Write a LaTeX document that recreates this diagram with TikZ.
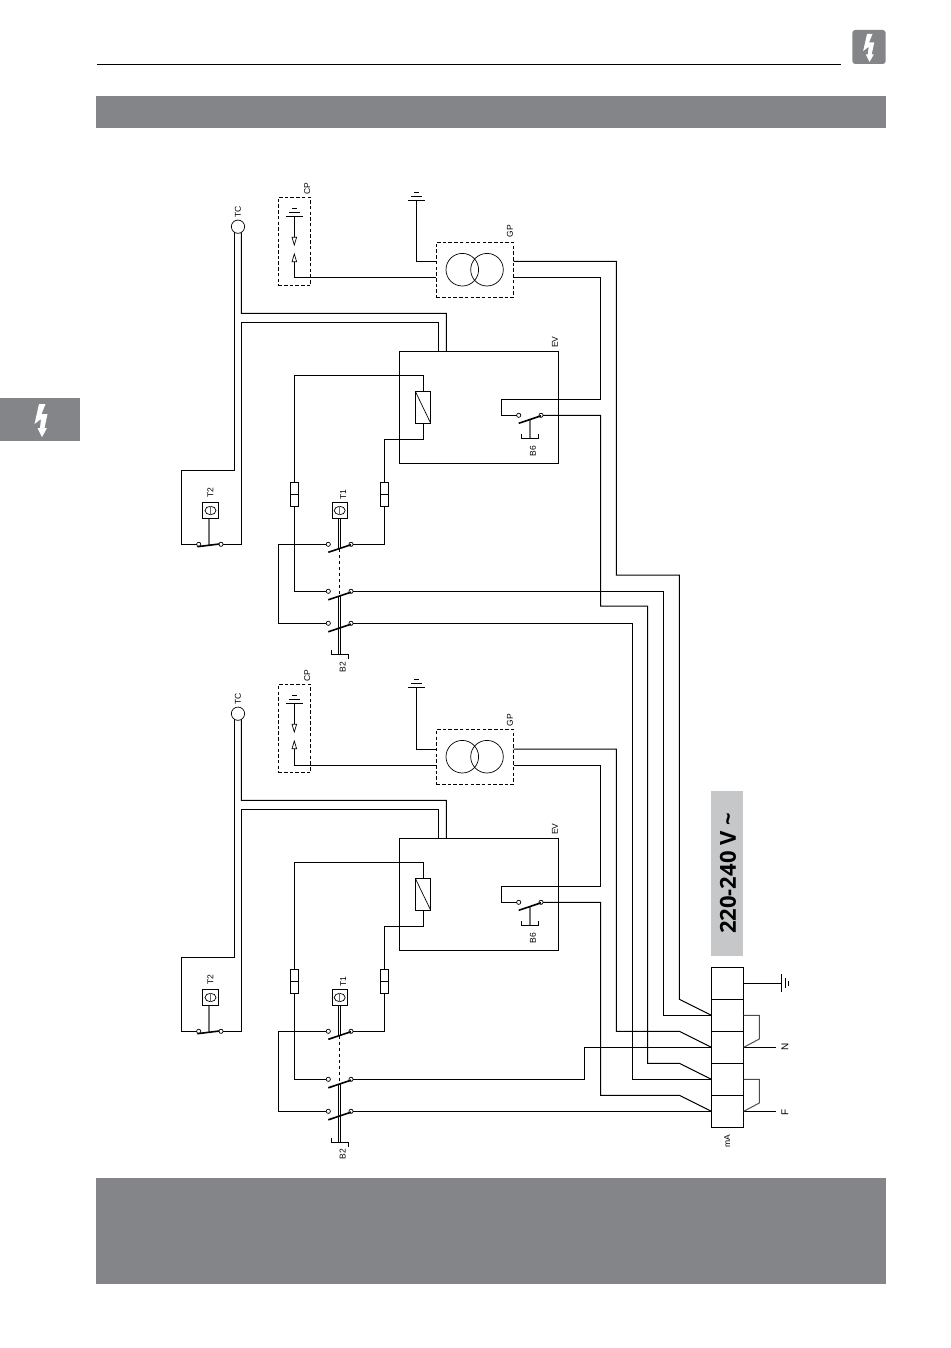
\documentclass[tikz,border=0pt]{standalone}
\usepackage{fontspec}
\setmainfont{Liberation Sans}
\newfontfamily\voltfont{Open Sans}
\definecolor{pagegray}{HTML}{848589}
\definecolor{labelgray}{HTML}{C6C7C9}
\tikzset{
    wire/.style={black, line width=1pt},
    fine/.style={black, line width=.7pt},
    jumper/.style={black!70, line width=1pt},
    blade/.style={black, line width=1.6pt},
    shaft/.style={black!55, line width=1.6pt},
    stem/.style={double, double distance=1.2pt, line width=.7pt},
    frame/.style={draw, line width=1pt, inner sep=0pt, outer sep=0pt},
    dashframe/.style={frame, dashed, dash pattern=on 3.5pt off 2.2pt},
    contact/.style={draw, circle, line width=.7pt, inner sep=0pt, outer sep=0pt, minimum size=4.2pt},
    tag/.style={rotate=90, inner sep=0pt, font=\fontsize{8.5}{8.5}\selectfont},
    block/.style={frame, minimum width=32.4pt, minimum height=32pt}
}
\begin{document}
\begin{tikzpicture}[x=1pt, y=-1pt]
    \useasboundingbox (0,0) rectangle (950,1348);

    % page furniture
    \fill[pagegray] (96,96) rectangle (886,128);
    \fill[pagegray] (96,1178) rectangle (886,1284);
    \fill[pagegray] (0,398) rectangle (80,441);
    \fill[pagegray, rounded corners=3pt] (852.3,30) rectangle (885.7,64);
    \draw[black, line width=1pt] (97,65) -- (841,65);
    \fill[white] (39,404) -- (45.5,404) -- (41.5,414) -- (47.5,414) -- (44.5,428) -- (47,428)
        -- (42,437) -- (37.5,428) -- (40,428) -- (41,419) -- (34.5,424) -- cycle;
    \fill[white] (867,34) -- (872.5,34) -- (869,42.5) -- (874.2,42.5) -- (871.7,54.4) -- (873.8,54.4)
        -- (869.5,62) -- (865.7,54.4) -- (867.8,54.4) -- (868.7,46.8) -- (863.2,51) -- cycle;

    % terminal block
    \fill[labelgray] (711,791) rectangle (743,956);
    \node[rotate=90, inner sep=0pt] (supply) at (728,873.5)
        {\voltfont\bfseries\fontsize{22}{22}\selectfont 220-240 V \textasciitilde};
    \node[block] (blk1) at (727.5,983.3) {};
    \node[block] (blk2) at (727.5,1015.3) {};
    \node[block] (blk3) at (727.5,1047.3) {};
    \node[block] (blk4) at (727.5,1079.3) {};
    \node[block] (blk5) at (727.5,1111.3) {};
    \node[tag] (mA) at (727.3,1141.3) {mA};
    \node[rotate=90, inner sep=0pt, font=\fontsize{10}{10}\selectfont] (lblN) at (785,1047.3) {N};
    \node[rotate=90, inner sep=0pt, font=\fontsize{10}{10}\selectfont] (lblF) at (785,1112) {F};
    \coordinate (earth) at (781.3,983.3);
    \coordinate (endN) at (775.7,1047.3);
    \coordinate (endF) at (775.7,1111.3);
    \draw[wire] (blk1.east) -- (earth);
    \draw[wire] (781.3,974) -- (781.3,991.7);
    \draw[wire] (785.3,978.3) -- (785.3,988.3);
    \draw[wire] (788.8,980.7) -- (788.8,985.7);
    \draw[wire] (blk3.east) -- (endN);
    \draw[wire] (blk5.east) -- (endF);
    \coordinate (jumpN) at (759.3,1015.3);
    \coordinate (kneeN) at (759.3,1039);
    \coordinate (jumpF) at (759.3,1079.3);
    \coordinate (kneeF) at (759.3,1103);
    \draw[jumper] (blk2.east) -- (jumpN) -- (kneeN) -- (blk3.east);
    \draw[jumper] (blk4.east) -- (jumpF) -- (kneeF) -- (blk5.east);

    % upper unit
    \node[draw, circle, line width=.7pt, inner sep=0pt, outer sep=0pt, minimum size=13.3pt] (tcA) at (238,226.7) {};
    \node[tag] (tcnameA) at (238,212.3) {TC};
    \node[dashframe, minimum width=32pt, minimum height=88.4pt] (cpA) at (294.3,241.5) {};
    \node[tag] (cpnameA) at (307.3,188.7) {C\kern0pt P};
    \node[dashframe, minimum width=77.2pt, minimum height=55pt] (gpA) at (474.9,269.8) {};
    \node[tag] (gpnameA) at (510,231) {G\kern0pt P};
    \node[frame, minimum width=159pt, minimum height=112pt] (evA) at (478.8,407.3) {};
    \node[tag] (evnameA) at (555,342) {EV};
    \node[frame, minimum width=15.4pt, minimum height=32pt] (coilA) at (423,407.3) {};
    \node[frame, minimum width=8pt, minimum height=24pt] (fuselA) at (294.3,494.3) {};
    \node[frame, minimum width=8pt, minimum height=24pt] (fuserA) at (384.3,494.3) {};
    \node[frame, minimum width=16.4pt, minimum height=16.4pt] (t2A) at (210.5,510.5) {};
    \node[tag] (t2nameA) at (210.3,493) {T2};
    \node[frame, minimum width=15pt, minimum height=16.4pt] (t1A) at (339.7,510.5) {};
    \node[tag] (t1nameA) at (343.3,494.7) {T1};
    \node[contact] (t2lA) at (198.7,544.3) {};
    \node[contact] (t2rA) at (221,544.3) {};
    \node[contact] (c1lA) at (328.3,544.3) {};
    \node[contact] (c1rA) at (351,544.3) {};
    \node[contact] (c2lA) at (328.3,591.3) {};
    \node[contact] (c2rA) at (351,591.3) {};
    \node[contact] (c3lA) at (328.3,623.3) {};
    \node[contact] (c3rA) at (351,623.3) {};
    \node[contact] (b6lA) at (518.7,415.3) {};
    \node[contact] (b6rA) at (541,415.3) {};
    \node[tag] (b6nameA) at (533,451) {B6};
    \node[tag] (b2nameA) at (342.7,667.3) {B2};
    % grounds and spark gap
    \draw[wire] (286,216.7) -- (303,216.7);
    \draw[wire] (289.3,212.5) -- (299.7,212.5);
    \draw[wire] (292.3,208.3) -- (296.7,208.3);
    \draw[wire] (408,200.3) -- (425,200.3);
    \draw[wire] (411,196.3) -- (421.7,196.3);
    \draw[wire] (414,192.3) -- (419,192.3);
    \coordinate (gndcpA) at (294.3,216.7);
    \coordinate (gapupA) at (294.3,237.3);
    \coordinate (gapdnA) at (294.3,261.7);
    \draw[wire] (gndcpA) -- (gapupA);
    \draw[fine] (292,237.3) -- (296.6,237.3) -- (294.3,245) -- cycle;
    \draw[fine] (292,261.7) -- (296.6,261.7) -- (294.3,254) -- cycle;
    \coordinate (gndgpA) at (416.3,200.3);
    \coordinate (gplaA) at (436.3,261.3);
    \coordinate (gplbA) at (436.3,277.3);
    \coordinate (gpraA) at (513.5,261.3);
    \coordinate (gprbA) at (513.5,277.3);
    \draw[wire] (gndgpA) |- (gplaA);
    \draw[wire] (gapdnA) |- (gplbA);
    \draw[fine] (462.3,269.7) circle (16.3pt);
    \draw[fine] (487,269.7) circle (16.3pt);
    % thermostat and valve wiring
    \coordinate (bendtA) at (181.3,470.3);
    \coordinate (bendaA) at (241.3,313.3);
    \coordinate (bendbA) at (241.3,322.3);
    \coordinate (evoutA) at (446.3,351.3);
    \coordinate (evinA) at (438.3,351.3);
    \draw[wire] (tcA.240) |- (bendtA) |- (t2lA);
    \draw[wire] (tcA.300) -- (bendaA) -| (evoutA);
    \draw[wire] (t2rA) -| (bendbA) -| (evinA);
    \draw[fine] (coilA.north west) -- (coilA.south east);
    \draw[wire] (fuselA.west) -- (fuselA.east);
    \draw[wire] (fuserA.west) -- (fuserA.east);
    \coordinate (coiltopA) at (423,375.7);
    \coordinate (coilbotA) at (423,439.3);
    \draw[wire] (coilA.north) -- (coiltopA) -| (fuselA.north);
    \draw[wire] (coilA.south) -- (coilbotA) -| (fuserA.north);
    \draw[wire] (fuselA.south) |- (c2lA);
    \draw[wire] (fuserA.south) |- (c1rA);
    \coordinate (loopA) at (278.3,544.3);
    \draw[wire] (c1lA) -- (loopA) |- (c3lA);
    % switches
    \draw[fine] (t2A.center) ellipse (5.5pt and 4.2pt);
    \draw[fine, black!60] (t2A.center) ++(0,-4.2) -- ++(0,8.4);
    \draw[fine] (t1A.center) ellipse (5.5pt and 4.2pt);
    \draw[fine, black!60] (t1A.center) ++(0,-4.2) -- ++(0,8.4);
    \coordinate (t2footA) at (209,545.5);
    \draw[shaft] (209,518.7) -- (t2footA);
    \draw[blade] (197.3,546.7) -- (219.3,544);
    \coordinate (s1A) at (339.7,548.5);
    \coordinate (s2A) at (339.7,596);
    \coordinate (b2footA) at (339.7,654.3);
    \draw[stem] (t1A.south) -- (s1A);
    \draw[fine, dashed] (s1A) -- (s2A);
    \draw[stem] (s2A) -- (b2footA);
    \draw[blade] (328.3,552.3) -- (351,544.7);
    \draw[blade] (328.3,599.8) -- (351,592.2);
    \draw[blade] (328.3,631.8) -- (351,624.2);
    \draw[wire] (331.3,650.3) -- (331.3,654.3) -- (348.3,654.3) -- (348.3,659);
    \coordinate (b6footA) at (529.7,438.3);
    \draw[shaft] (529.7,420) -- (b6footA);
    \draw[blade] (518.7,423.3) -- (541,415.8);
    \draw[wire] (521.3,434.3) -- (521.3,438.3) -- (538.3,438.3) -- (538.3,434.3);
    \coordinate (gpbendA) at (600.7,399.3);
    \coordinate (b6bendA) at (501.3,399.3);
    \draw[wire] (gprbA) -| (gpbendA) -- (b6bendA) |- (b6lA);

    % lower unit
    \node[draw, circle, line width=.7pt, inner sep=0pt, outer sep=0pt, minimum size=13.3pt] (tcB) at (238,713.7) {};
    \node[tag] (tcnameB) at (238,699.3) {TC};
    \node[dashframe, minimum width=32pt, minimum height=88.4pt] (cpB) at (294.3,728.5) {};
    \node[tag] (cpnameB) at (307.3,675.7) {C\kern0pt P};
    \node[dashframe, minimum width=77.2pt, minimum height=55pt] (gpB) at (474.9,756.8) {};
    \node[tag] (gpnameB) at (510,720) {G\kern0pt P};
    \node[frame, minimum width=159pt, minimum height=112pt] (evB) at (478.8,894.3) {};
    \node[tag] (evnameB) at (555,829) {EV};
    \node[frame, minimum width=15.4pt, minimum height=32pt] (coilB) at (423,894.3) {};
    \node[frame, minimum width=8pt, minimum height=24pt] (fuselB) at (294.3,981.3) {};
    \node[frame, minimum width=8pt, minimum height=24pt] (fuserB) at (384.3,981.3) {};
    \node[frame, minimum width=16.4pt, minimum height=16.4pt] (t2B) at (210.5,997.5) {};
    \node[tag] (t2nameB) at (210.3,980) {T2};
    \node[frame, minimum width=15pt, minimum height=16.4pt] (t1B) at (339.7,997.5) {};
    \node[tag] (t1nameB) at (343.3,982) {T1};
    \node[contact] (t2lB) at (198.7,1031.3) {};
    \node[contact] (t2rB) at (221,1031.3) {};
    \node[contact] (c1lB) at (328.3,1031.3) {};
    \node[contact] (c1rB) at (351,1031.3) {};
    \node[contact] (c2lB) at (328.3,1079.3) {};
    \node[contact] (c2rB) at (351,1079.3) {};
    \node[contact] (c3lB) at (328.3,1111.3) {};
    \node[contact] (c3rB) at (351,1111.3) {};
    \node[contact] (b6lB) at (518.7,902.3) {};
    \node[contact] (b6rB) at (541,902.3) {};
    \node[tag] (b6nameB) at (533,938) {B6};
    \node[tag] (b2nameB) at (342.7,1154.3) {B2};
    % grounds and spark gap
    \draw[wire] (286,703.7) -- (303,703.7);
    \draw[wire] (289.3,699.5) -- (299.7,699.5);
    \draw[wire] (292.3,695.3) -- (296.7,695.3);
    \draw[wire] (408,687.3) -- (425,687.3);
    \draw[wire] (411,683.3) -- (421.7,683.3);
    \draw[wire] (414,679.3) -- (419,679.3);
    \coordinate (gndcpB) at (294.3,703.7);
    \coordinate (gapupB) at (294.3,724.3);
    \coordinate (gapdnB) at (294.3,748.7);
    \draw[wire] (gndcpB) -- (gapupB);
    \draw[fine] (292,724.3) -- (296.6,724.3) -- (294.3,732) -- cycle;
    \draw[fine] (292,748.7) -- (296.6,748.7) -- (294.3,741) -- cycle;
    \coordinate (gndgpB) at (416.3,687.3);
    \coordinate (gplaB) at (436.3,749);
    \coordinate (gplbB) at (436.3,765);
    \coordinate (gpraB) at (513.5,749);
    \coordinate (gprbB) at (513.5,765);
    \draw[wire] (gndgpB) |- (gplaB);
    \draw[wire] (gapdnB) |- (gplbB);
    \draw[fine] (462.3,756.7) circle (16.3pt);
    \draw[fine] (487,756.7) circle (16.3pt);
    % thermostat and valve wiring
    \coordinate (bendtB) at (181.3,957.3);
    \coordinate (bendaB) at (241.3,800.3);
    \coordinate (bendbB) at (241.3,809.3);
    \coordinate (evoutB) at (446.3,838.3);
    \coordinate (evinB) at (438.3,838.3);
    \draw[wire] (tcB.240) |- (bendtB) |- (t2lB);
    \draw[wire] (tcB.300) -- (bendaB) -| (evoutB);
    \draw[wire] (t2rB) -| (bendbB) -| (evinB);
    \draw[fine] (coilB.north west) -- (coilB.south east);
    \draw[wire] (fuselB.west) -- (fuselB.east);
    \draw[wire] (fuserB.west) -- (fuserB.east);
    \coordinate (coiltopB) at (423,862.7);
    \coordinate (coilbotB) at (423,926.3);
    \draw[wire] (coilB.north) -- (coiltopB) -| (fuselB.north);
    \draw[wire] (coilB.south) -- (coilbotB) -| (fuserB.north);
    \draw[wire] (fuselB.south) |- (c2lB);
    \draw[wire] (fuserB.south) |- (c1rB);
    \coordinate (loopB) at (278.3,1031.3);
    \draw[wire] (c1lB) -- (loopB) |- (c3lB);
    % switches
    \draw[fine] (t2B.center) ellipse (5.5pt and 4.2pt);
    \draw[fine, black!60] (t2B.center) ++(0,-4.2) -- ++(0,8.4);
    \draw[fine] (t1B.center) ellipse (5.5pt and 4.2pt);
    \draw[fine, black!60] (t1B.center) ++(0,-4.2) -- ++(0,8.4);
    \coordinate (t2footB) at (209,1032.5);
    \draw[shaft] (209,1005.7) -- (t2footB);
    \draw[blade] (197.3,1033.7) -- (219.3,1031);
    \coordinate (s1B) at (339.7,1035.5);
    \coordinate (s2B) at (339.7,1084);
    \coordinate (b2footB) at (339.7,1142.3);
    \draw[stem] (t1B.south) -- (s1B);
    \draw[fine, dashed] (s1B) -- (s2B);
    \draw[stem] (s2B) -- (b2footB);
    \draw[blade] (328.3,1039.3) -- (351,1031.7);
    \draw[blade] (328.3,1087.8) -- (351,1080.2);
    \draw[blade] (328.3,1119.8) -- (351,1112.2);
    \draw[wire] (331.3,1138.3) -- (331.3,1142.3) -- (348.3,1142.3) -- (348.3,1147);
    \coordinate (b6footB) at (529.7,925.3);
    \draw[shaft] (529.7,907) -- (b6footB);
    \draw[blade] (518.7,910.3) -- (541,902.8);
    \draw[wire] (521.3,921.3) -- (521.3,925.3) -- (538.3,925.3) -- (538.3,921.3);
    \coordinate (gpbendB) at (600.7,886.3);
    \coordinate (b6bendB) at (501.3,886.3);
    \draw[wire] (gprbB) -| (gpbendB) -- (b6bendB) |- (b6lB);

    % feeds to the terminal block
    \coordinate (fa) at (616.3,575);
    \coordinate (fb) at (679.3,999.3);
    \draw[wire] (gpraA) -| (fa) -| (fb) -- (blk2.west);
    \coordinate (fc) at (663.3,1015.3);
    \draw[wire] (c2rA) -| (fc) -- (blk2.west);
    \coordinate (fd) at (600.7,606);
    \coordinate (fe) at (647.7,1063.3);
    \coordinate (ff) at (679.3,1063.3);
    \draw[wire] (b6rA) -| (fd) -| (fe) -- (ff) -- (blk4.west);
    \coordinate (fg) at (632.3,1079.3);
    \draw[wire] (c3rA) -| (fg) -- (blk4.west);
    \coordinate (fh) at (616.3,1031.3);
    \coordinate (fi) at (679.3,1031.3);
    \draw[wire] (gpraB) -| (fh) -- (fi) -- (blk3.west);
    \coordinate (fj) at (584.3,1047.3);
    \draw[wire] (c2rB) -| (fj) -- (blk3.west);
    \coordinate (fk) at (600.7,1095.3);
    \coordinate (fl) at (679.3,1095.3);
    \draw[wire] (b6rB) -| (fk) -- (fl) -- (blk5.west);
    \draw[wire] (c3rB) -- (blk5.west);
\end{tikzpicture}
\end{document}
